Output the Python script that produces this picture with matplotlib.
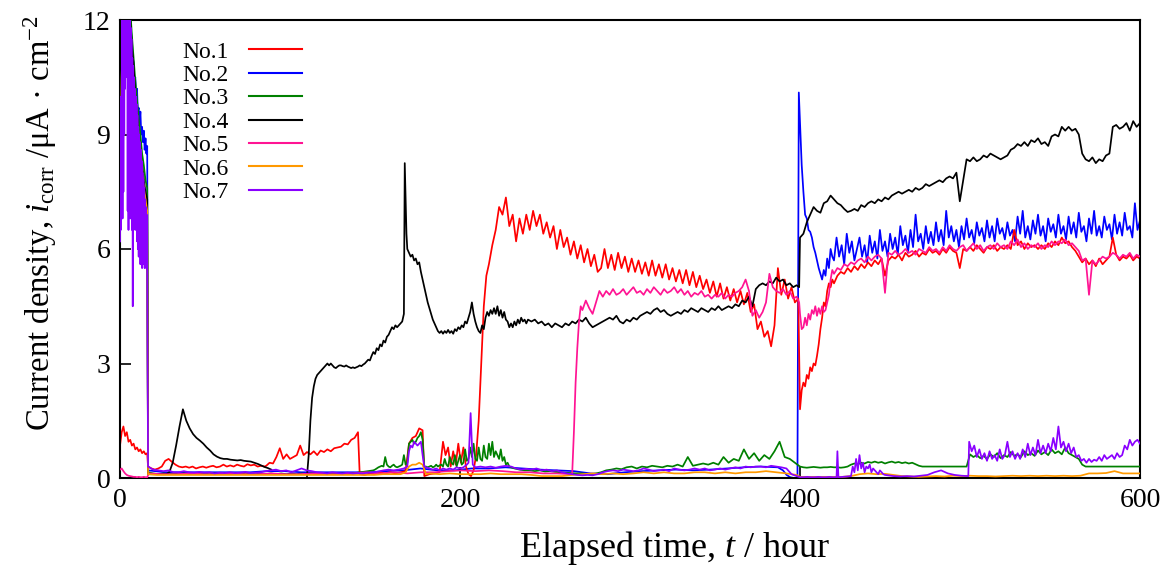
import numpy as np
import matplotlib
matplotlib.use("Agg")
import matplotlib.pyplot as plt
from matplotlib.lines import Line2D

plt.rcParams['font.family'] = ['Liberation Serif', 'DejaVu Serif']
plt.rcParams['mathtext.fontset'] = 'custom'
plt.rcParams['mathtext.rm'] = 'Liberation Serif'
plt.rcParams['mathtext.it'] = 'Liberation Serif:italic'

labels = ["No.1", "No.2", "No.3", "No.4", "No.5", "No.6", "No.7"]
colors = ["#ff0000", "#0000ff", "#008000", "#000000", "#ff1493", "#ff9900", "#8a00ff"]
x_ticks = [0, 200, 400, 600]
y_ticks = [0, 3, 6, 9, 12]

# Each series: list of (t_start, t_end, values) segments
no1_segments = [
    (0, 16, [0.85, 1.2, 1.35, 1.1, 1.2, 0.95, 1.0, 0.85, 0.9, 0.75, 0.8, 0.7, 0.75, 0.65, 0.7, 0.62, 0.65]),
    (16.5, 85, [0.3, 0.25, 0.22, 0.25, 0.3, 0.45, 0.5, 0.42, 0.35, 0.3, 0.28, 0.3, 0.27, 0.3, 0.25, 0.28, 0.3,
                0.27, 0.3, 0.32, 0.28, 0.3, 0.35, 0.3, 0.33, 0.3, 0.35, 0.32, 0.3, 0.36, 0.33, 0.35, 0.3, 0.32, 0.3]),
    (86, 140, [0.32, 0.4, 0.38, 0.55, 0.78, 0.5, 0.62, 0.5, 0.55, 0.6, 0.85, 0.6, 0.68, 0.62, 0.7, 0.6, 0.72, 0.68,
               0.75, 0.7, 0.78, 0.8, 0.82, 0.9, 0.88, 1.0, 1.05, 1.2]),
    (141, 168, [0.1, 0.08, 0.12, 0.1, 0.15, 0.12, 0.15, 0.12, 0.15, 0.18]),
    (170, 178, [0.9, 1.05, 1.1, 1.3, 1.25]),
    (179, 188, [0.05, 0.1, 0.12, 0.15]),
    (190, 217, [0.95, 0.6, 0.8, 0.3, 0.7, 0.35, 0.9, 0.4, 0.8, 0.3, 0.1, 0.05, 0.2, 0.6, 1.5, 3.0, 4.5, 5.3, 5.6]),
    (219, 399, [6.1, 6.5, 7.1, 6.9, 7.35, 6.6, 6.9, 6.2, 6.8,
                6.4, 6.9, 6.5, 7.0, 6.6, 6.9, 6.4, 6.7, 6.3, 6.6,
                6.0, 6.5, 6.05, 6.3, 5.85, 6.2, 5.75, 6.1, 5.65, 6.0,
                5.55, 5.85, 5.4, 5.5, 6.0, 5.5, 5.85, 5.45, 5.9, 5.5,
                5.8, 5.4, 5.75, 5.4, 5.7, 5.35, 5.65, 5.3, 5.7, 5.3,
                5.6, 5.25, 5.6, 5.2, 5.5, 5.15, 5.45, 5.1, 5.45, 5.05,
                5.4, 5.0, 5.3, 4.95, 5.2, 4.85, 5.15, 4.75, 5.1, 4.7,
                5.0, 4.65, 4.95, 4.6, 4.9, 4.55, 4.85, 4.35, 4.55, 3.9,
                4.1, 3.7, 3.85, 3.45, 4.0, 5.5, 4.8, 5.2, 4.7, 5.0,
                4.6, 4.7]),
    (400, 420, [1.8, 2.3, 2.5, 2.4, 2.7, 2.6, 2.9, 2.8, 3.0, 2.95, 3.2, 3.5, 3.9, 4.2, 4.6, 4.5, 4.9, 5.1, 5.0, 5.2, 5.1]),
    (422, 600, [5.3, 5.4, 5.35, 5.5, 5.4, 5.55, 5.45, 5.6, 5.5, 5.65,
                5.55, 5.7, 5.6, 5.75, 5.3, 5.7, 5.8, 5.75, 5.85, 5.7,
                5.9, 5.8, 5.85, 5.95, 5.8, 5.9, 5.85, 6.0, 5.9, 5.95,
                5.85, 6.0, 5.9, 6.05, 5.95, 5.9, 5.5, 6.0, 5.95, 6.05,
                5.95, 6.1, 6.0, 5.9, 6.05, 6.0, 6.1, 5.95, 6.05, 6.0,
                6.1, 6.0, 6.5, 6.1, 6.2, 6.0, 6.15, 6.05, 6.1, 6.0,
                6.1, 6.0, 6.15, 6.05, 6.2, 6.1, 6.3, 6.15, 6.2, 6.05,
                5.95, 5.8, 5.65, 5.75, 5.6, 5.7, 5.55, 5.75, 5.6, 5.7,
                5.8, 6.3, 5.85, 5.7, 5.8, 5.75, 5.85, 5.7, 5.8, 5.75]),
]

no2_segments = [
    (0, 16, [8.8, 10.0, 11.5, 12.5, 12.5, 12.5, 12.5, 12.5, 12.5, 12.5, 12.5, 12.5, 12.3, 11.7, 11.5, 11.0, 10.9,
             10.4, 10.5, 10.0, 10.2, 9.6, 9.7, 9.3, 9.6, 9.0, 9.2, 8.8, 9.1, 8.6, 8.9, 8.5, 8.7]),
    (16.5, 387, [0.2, 0.15, 0.15, 0.15, 0.15, 0.15, 0.15, 0.18, 0.18, 0.15, 0.15, 0.15, 0.15, 0.15, 0.18, 0.2,
                 0.25, 0.2, 0.2, 0.25, 0.25, 0.28, 0.25, 0.22, 0.2, 0.18, 0.12, 0.1, 0.15, 0.18, 0.2, 0.22, 0.2,
                 0.22, 0.25, 0.28, 0.3, 0.28]),
    (390, 398.5, [0.2, 0.08, 0.02, 0.0, 0.0]),
    (399.3, 399.3, [10.1]),
    (400, 419, [9.3, 8.2, 7.5, 6.9, 6.8, 6.5, 6.45, 6.3, 6.05, 5.9, 5.7, 5.5, 5.35, 5.2, 5.45, 5.3, 5.75, 5.5, 6.0, 5.8]),
    (420, 600, [5.7, 6.3, 5.8, 6.1, 5.6, 6.4, 5.9, 6.2, 5.7, 6.0,
                6.3, 5.8, 6.1, 5.65, 6.35, 5.9, 6.2, 5.75, 6.5, 5.95,
                6.2, 5.8, 6.4, 6.0, 6.3, 5.85, 6.6, 6.1, 6.35, 5.9,
                6.5, 6.05, 6.9, 6.2, 6.4, 6.0, 6.6, 6.15, 6.45, 6.1,
                6.7, 6.2, 6.5, 6.1, 7.0, 6.3, 6.6, 6.2, 6.5, 6.05,
                6.6, 6.25, 6.8, 6.3, 6.5, 6.15, 6.7, 6.35, 6.55, 6.2,
                6.75, 6.3, 6.6, 6.2, 6.8, 6.4, 6.55, 6.25, 6.7, 6.35,
                6.5, 6.2, 6.85, 6.4, 7.0, 6.3, 6.6, 6.25, 6.75, 6.4,
                6.9, 6.35, 6.6, 6.2, 6.8, 6.45, 6.65, 6.3, 6.9, 6.4,
                6.6, 6.25, 6.85, 6.4, 6.7, 6.3, 6.95, 6.45, 6.6, 6.2,
                6.8, 6.4, 7.0, 6.35, 6.6, 6.3, 6.85, 6.5, 6.65, 6.25,
                6.9, 6.4, 6.7, 6.35, 6.95, 6.5, 6.6, 6.3, 7.2, 6.5,
                6.75]),
]

no3_segments = [
    (0, 16, [7.5, 10.5, 12.5, 12.5, 12.5, 12.5, 12.3, 11.6, 11.0, 10.4, 9.9, 9.4, 9.0, 8.5, 8.2, 7.8, 7.6]),
    (16.5, 149, [0.15, 0.12, 0.1, 0.12, 0.1, 0.12, 0.1, 0.12, 0.1, 0.12, 0.1, 0.12, 0.1, 0.12, 0.1, 0.12, 0.1,
                 0.12, 0.13, 0.1, 0.12, 0.1, 0.12, 0.1, 0.12, 0.1, 0.12, 0.1, 0.12, 0.1, 0.12, 0.1, 0.12, 0.1,
                 0.12, 0.1, 0.12, 0.1, 0.12, 0.1, 0.12, 0.14, 0.16, 0.18, 0.2]),
    (150, 230, [0.22, 0.25, 0.28, 0.3, 0.32, 0.3, 0.55, 0.35, 0.3, 0.28,
                0.32, 0.35, 0.3, 0.28, 0.3, 0.32, 0.35, 0.6, 0.35, 0.4,
                0.9, 0.95, 1.0, 0.9, 0.95, 1.05, 1.1, 1.2, 1.0, 0.3,
                0.3, 0.28, 0.3, 0.32, 0.28, 0.3, 0.35, 0.3, 0.33, 0.35,
                0.3, 0.5, 0.35, 0.3, 0.55, 0.4, 0.35, 0.6, 0.3, 0.45,
                0.6, 0.35, 0.4, 0.75, 0.45, 0.5, 0.8, 0.55, 0.9, 0.5,
                0.45, 0.8, 0.5, 0.45, 0.85, 0.55, 0.5, 0.9, 0.6, 0.95,
                0.55, 0.7, 0.6, 0.5, 0.75, 0.45, 0.55, 0.35, 0.4, 0.3,
                0.28]),
    (232, 400, [0.25, 0.22, 0.2, 0.2, 0.18, 0.2, 0.17, 0.18, 0.16, 0.15, 0.14, 0.13, 0.12, 0.12, 0.11, 0.1, 0.12,
                0.15, 0.2, 0.22, 0.25, 0.23, 0.28, 0.3, 0.25, 0.3, 0.28, 0.32, 0.3, 0.28, 0.32, 0.3, 0.35, 0.3,
                0.55, 0.32, 0.35, 0.38, 0.35, 0.4, 0.35, 0.55, 0.4, 0.5, 0.45, 0.75, 0.5, 0.65, 0.45, 0.6, 0.5,
                0.7, 0.95, 0.55, 0.5, 0.4, 0.3]),
    (402, 600, [0.28, 0.27, 0.28, 0.29, 0.28, 0.27, 0.28, 0.28, 0.29, 0.28,
                0.28, 0.27, 0.28, 0.3, 0.35, 0.38, 0.36, 0.4, 0.38, 0.42,
                0.4, 0.43, 0.4, 0.42, 0.38, 0.41, 0.43, 0.4, 0.42, 0.39,
                0.41, 0.38, 0.4, 0.36, 0.32, 0.3, 0.3, 0.3, 0.3, 0.3,
                0.3, 0.3, 0.3, 0.3, 0.3, 0.3, 0.3, 0.3, 0.3, 0.62,
                0.55, 0.6, 0.52, 0.58, 0.5, 0.62, 0.55, 0.65, 0.52, 0.6,
                0.55, 0.68, 0.58, 0.62, 0.55, 0.7, 0.6, 0.65, 0.58, 0.72,
                0.62, 0.68, 0.6, 0.75, 0.65, 0.7, 0.62, 0.8, 0.65, 0.6,
                0.55, 0.5, 0.35, 0.3, 0.3, 0.3, 0.3, 0.3, 0.3, 0.3,
                0.3, 0.3, 0.3, 0.3, 0.3, 0.3, 0.3, 0.3, 0.3, 0.3]),
]

no4_segments = [
    (0, 16, [8.0, 11.0, 12.5, 12.5, 12.5, 12.5, 12.0, 11.3, 10.8, 10.0, 9.5, 9.0, 8.5, 8.2, 7.8, 7.5, 7.3]),
    (16.5, 27, [0.1, 0.1]),
    (29, 89, [0.15, 0.4, 0.85, 1.35, 1.8, 1.5, 1.3, 1.15, 1.05, 0.98, 0.9, 0.8, 0.72, 0.62, 0.56, 0.52, 0.5, 0.5,
              0.48, 0.47, 0.46, 0.47, 0.45, 0.44, 0.43, 0.4, 0.37, 0.33, 0.29, 0.26, 0.22]),
    (89.5, 89.5, [np.nan]),  # gap: no record between the two runs
    (110, 167, [0.05, 0.6, 1.5, 2.1, 2.4, 2.6, 2.7, 2.75, 2.8, 2.85,
                2.9, 2.95, 3.0, 2.95, 3.0, 2.95, 2.9, 2.88, 2.92, 2.95,
                2.95, 2.93, 2.92, 2.95, 2.92, 2.9, 2.88, 2.9, 2.88, 2.9,
                2.92, 2.95, 2.93, 2.97, 3.0, 3.05, 3.1, 3.08, 3.2, 3.3,
                3.25, 3.4, 3.35, 3.5, 3.45, 3.6, 3.55, 3.7, 3.75, 3.85,
                3.95, 3.9, 4.0, 3.95, 4.0, 4.05, 4.1, 4.3]),
    (167.5, 168.5, [8.25, 6.4]),
    (169, 240, [6.0, 5.9, 5.8, 5.85, 5.7, 5.75, 5.6, 5.65, 5.4, 5.2,
                5.0, 4.8, 4.6, 4.45, 4.3, 4.15, 4.05, 3.95, 3.85, 3.8,
                3.85, 3.78, 3.85, 3.8, 3.88, 3.8, 3.85, 3.78, 3.9, 3.85,
                3.95, 3.9, 4.0, 3.95, 4.1, 4.05, 4.2, 4.35, 4.6, 4.3,
                4.1, 3.95, 3.85, 3.8, 4.0, 3.9, 4.2, 4.35, 4.25, 4.4,
                4.3, 4.45, 4.3, 4.5, 4.25, 4.4, 4.2, 4.35, 4.15, 4.1,
                3.95, 4.05, 3.95, 4.1, 4.0, 4.15, 4.05, 4.2, 4.1, 4.15,
                4.05, 4.15]),
    (242, 398, [4.1, 4.15, 4.05, 4.1, 4.0, 4.05, 3.95, 4.05, 4.0, 3.95,
                4.05, 4.0, 4.1, 4.05, 4.15, 4.1, 4.2, 4.05, 3.95, 4.0,
                4.05, 4.1, 4.15, 4.2, 4.15, 4.25, 4.1, 4.05, 4.15, 4.1,
                4.2, 4.15, 4.25, 4.3, 4.35, 4.3, 4.4, 4.45, 4.35, 4.4,
                4.3, 4.25, 4.3, 4.35, 4.3, 4.4, 4.35, 4.45, 4.4, 4.35,
                4.45, 4.4, 4.35, 4.45, 4.4, 4.5, 4.4, 4.45, 4.5, 4.45,
                4.55, 4.5, 4.65, 4.6, 4.75, 4.5, 4.95, 5.05, 5.1, 5.05,
                5.15, 5.1, 5.25, 5.15, 5.2, 5.05, 5.1, 5.0, 5.05]),
    (399.5, 399.5, [5.0]),
    (400, 600, [6.3, 6.4, 6.7, 6.9, 7.1, 7.0, 6.95, 7.2, 7.25, 7.4,
                7.3, 7.2, 7.15, 7.05, 6.97, 7.0, 7.05, 7.0, 7.15, 7.1,
                7.2, 7.25, 7.2, 7.3, 7.25, 7.35, 7.3, 7.4, 7.45, 7.5,
                7.45, 7.5, 7.55, 7.5, 7.6, 7.55, 7.6, 7.7, 7.65, 7.7,
                7.75, 7.8, 7.75, 7.85, 7.9, 7.85, 8.0, 7.25, 7.8, 8.35,
                8.3, 8.4, 8.3, 8.35, 8.45, 8.4, 8.5, 8.45, 8.4, 8.35,
                8.4, 8.45, 8.6, 8.65, 8.75, 8.7, 8.8, 8.7, 8.85, 8.8,
                8.9, 8.75, 8.8, 8.7, 8.95, 9.0, 8.95, 9.2, 9.1, 9.2,
                9.1, 9.15, 9.0, 8.5, 8.35, 8.3, 8.4, 8.25, 8.35, 8.3,
                8.45, 8.5, 9.2, 9.25, 9.15, 9.2, 9.3, 9.1, 9.35, 9.2,
                9.3]),
]

no5_segments = [
    (0, 16, [0.22, 0.25, 0.18, 0.12, 0.08, 0.06, 0.05, 0.04, 0.03, 0.03, 0.02, 0.03, 0.02, 0.02, 0.03, 0.02, 0.02]),
    (17, 265, [0.12, 0.1, 0.1, 0.12, 0.1, 0.1, 0.12, 0.1, 0.1, 0.12, 0.1, 0.1, 0.12, 0.1, 0.1, 0.12, 0.15, 0.12,
               0.15, 0.12, 0.15, 0.15, 0.18, 0.2, 0.18, 0.2, 0.18, 0.15, 0.15, 0.12, 0.12, 0.1]),
    (266, 271, [0.12, 1.2, 2.5, 3.4, 4.1, 4.5]),
    (272, 398, [4.4, 4.65, 4.45, 4.3, 4.6, 4.9, 4.75, 4.9, 4.8, 4.95,
                4.8, 4.85, 4.95, 4.8, 4.9, 5.0, 4.85, 4.9, 4.8, 4.95,
                4.85, 5.0, 4.9, 4.8, 4.95, 4.85, 4.9, 5.0, 4.85, 4.95,
                4.8, 4.9, 4.75, 4.85, 4.8, 4.9, 4.75, 4.8, 4.7, 4.8,
                4.75, 4.85, 4.7, 4.8, 4.75, 4.85, 4.9, 5.0, 5.2, 4.9,
                4.25, 4.4, 4.2, 4.35, 4.6, 5.35, 5.0, 4.9, 4.85, 4.95,
                4.8, 4.9, 4.7, 4.75]),
    (399.5, 399.5, [4.6]),
    (400, 420, [4.3, 3.9, 3.95, 4.2, 4.0, 4.3, 4.15, 4.4, 4.3, 4.5, 4.25, 4.45, 4.3, 4.5, 4.35, 4.4, 4.6,
                4.8, 5.2, 5.45, 5.35]),
    (422, 600, [5.5, 5.45, 5.6, 5.55, 5.65, 5.6, 5.7, 5.75, 5.65, 5.8,
                5.7, 5.8, 5.85, 5.75, 4.85, 5.9, 5.85, 5.95, 5.85, 5.9,
                6.0, 5.9, 5.95, 5.85, 6.0, 5.95, 5.9, 6.05, 5.95, 6.0,
                5.9, 6.05, 5.95, 6.1, 6.0, 5.95, 6.05, 6.1, 5.95, 6.05,
                6.15, 6.0, 6.1, 5.95, 6.05, 6.1, 6.0, 6.15, 6.05, 6.1,
                6.0, 6.2, 6.1, 6.25, 6.05, 6.15, 6.0, 6.1, 6.05, 6.15,
                6.0, 6.1, 6.05, 6.2, 6.1, 6.2, 6.15, 6.25, 6.1, 6.15,
                6.05, 5.95, 5.7, 5.75, 4.8, 5.7, 5.6, 5.7, 5.8, 5.75,
                5.8, 5.9, 5.85, 5.75, 5.85, 5.8, 5.9, 5.75, 5.85, 5.8]),
]

no6_segments = [
    (0, 16, [7.0, 10.5, 12.5, 12.5, 12.5, 12.5, 11.0, 10.4, 10.0, 9.5, 9.0, 8.6, 8.3, 8.0, 7.6, 7.3, 7.0]),
    (16.5, 165, [0.1] + [0.08] * 26 + [0.1, 0.1, 0.1]),
    (168, 180, [0.15, 0.3, 0.35, 0.35, 0.4, 0.35, 0.1]),
    (182, 398, [0.12, 0.1, 0.12, 0.1, 0.1, 0.1, 0.12, 0.1, 0.1, 0.1, 0.08, 0.05, 0.05, 0.05, 0.08, 0.1, 0.12, 0.1,
                0.12, 0.1, 0.12, 0.15, 0.12, 0.15, 0.12, 0.12, 0.15, 0.15, 0.12, 0.15, 0.12, 0.15, 0.15, 0.18,
                0.15, 0.12, 0.08]),
    (400, 600, [0.03, 0.03, 0.03, 0.03, 0.03, 0.03, 0.05, 0.1, 0.12, 0.1, 0.11, 0.08, 0.05, 0.04, 0.03, 0.04,
                0.05, 0.04, 0.06, 0.05, 0.06, 0.05, 0.05, 0.04, 0.05, 0.06, 0.05, 0.06, 0.05, 0.06, 0.05, 0.06,
                0.05, 0.06, 0.12, 0.12, 0.13, 0.18, 0.12, 0.12, 0.12]),
]

no7_segments = [
    (0, 16, [6.2, 8.5, 6.5, 10.0, 7.0, 12.5, 6.8, 12.5, 7.5, 12.5, 9.0, 12.5, 10.2, 12.5, 10.5, 12.5, 11.0,
             12.5, 7.0, 12.5, 6.5, 12.5, 8.0, 12.2, 6.8, 11.8, 7.5, 11.5, 6.5, 11.0, 4.5, 10.8, 6.6, 10.5,
             6.8, 10.2, 6.5, 10.0, 7.0, 9.8, 6.2, 9.5, 6.0, 9.2, 5.8, 9.0, 6.3, 8.8, 5.6, 8.6, 5.9, 8.3, 5.5,
             8.0, 6.0, 7.8, 5.6, 7.6, 5.5, 7.3, 5.8, 7.1, 5.5, 6.9, 5.5]),
    (16.5, 167, [0.3, 0.22, 0.2, 0.18, 0.2, 0.15, 0.15, 0.18, 0.15, 0.14, 0.16, 0.14, 0.15, 0.12, 0.14, 0.13,
                 0.15, 0.13, 0.14, 0.16, 0.13, 0.14, 0.15, 0.18, 0.2, 0.22, 0.18, 0.2, 0.15, 0.2, 0.25, 0.2,
                 0.18, 0.15, 0.14, 0.12, 0.15, 0.13, 0.12, 0.14, 0.12, 0.13, 0.12, 0.14, 0.15, 0.17, 0.2, 0.22,
                 0.2, 0.22, 0.25]),
    (169, 179, [0.3, 0.7, 0.85, 0.8, 0.95, 0.9, 0.85, 0.9, 0.95, 0.6, 0.3]),
    (182, 204, [0.25, 0.22, 0.25, 0.2, 0.25, 0.22, 0.25, 0.22, 0.28, 0.25, 0.28, 0.35]),
    (205, 207.5, [0.4, 1.7, 0.35]),
    (209, 398, [0.28, 0.3, 0.28, 0.3, 0.27, 0.3, 0.32, 0.3, 0.25, 0.22, 0.24, 0.22, 0.25, 0.2, 0.22, 0.18, 0.2,
                0.15, 0.12, 0.1, 0.08, 0.07, 0.08, 0.07, 0.1, 0.15, 0.18, 0.2, 0.18, 0.22, 0.2, 0.18, 0.2, 0.25,
                0.22, 0.18, 0.2, 0.22, 0.18, 0.25, 0.22, 0.2, 0.22, 0.25, 0.22, 0.25, 0.2, 0.22, 0.25, 0.22,
                0.25, 0.28, 0.25, 0.3, 0.28, 0.3, 0.3, 0.28, 0.32, 0.3, 0.28, 0.25, 0.1, 0.05]),
    (400, 421.5, [0.02, 0.02, 0.03, 0.02, 0.02, 0.03, 0.02, 0.02, 0.03, 0.02, 0.02]),
    (422, 422.6, [0.7, 0.02]),
    (430, 450, [0.05, 0.3, 0.15, 0.5, 0.2, 0.6, 0.25, 0.4, 0.15, 0.3, 0.25, 0.35, 0.15, 0.25, 0.2, 0.15, 0.1,
                0.2, 0.15, 0.1, 0.08]),
    (455, 499, [0.05, 0.04, 0.05, 0.04, 0.06, 0.08, 0.15, 0.2, 0.12, 0.08, 0.06, 0.05]),
    (499.5, 600, [0.95, 0.7, 0.85, 0.55, 0.75, 0.5, 0.65, 0.45, 0.7, 0.5,
                  0.6, 0.45, 0.75, 0.5, 0.6, 0.95, 0.55, 0.7, 0.5, 0.65,
                  0.5, 0.75, 0.55, 0.9, 0.6, 0.8, 0.6, 1.0, 0.65, 0.85,
                  0.65, 0.9, 0.7, 1.05, 0.75, 1.35, 0.8, 0.95, 0.7, 0.9,
                  0.65, 0.8, 0.55, 0.6, 0.45, 0.5, 0.4, 0.5, 0.42, 0.48,
                  0.45, 0.55, 0.45, 0.6, 0.5, 0.55, 0.6, 0.5, 0.65, 0.55,
                  0.6, 0.85, 0.75, 1.0, 0.85, 0.95, 1.0, 0.9]),
]

all_segments = [no1_segments, no2_segments, no3_segments, no4_segments,
                no5_segments, no6_segments, no7_segments]
zorders = [2, 1, 3, 4, 5, 6, 7]


def build(segments):
    ts, vs = [], []
    for t0, t1, vals in segments:
        ts.append(np.linspace(t0, t1, len(vals)))
        vs.append(np.asarray(vals, dtype=float))
    return np.concatenate(ts), np.concatenate(vs)


fig = plt.figure(figsize=(11.66, 5.68), dpi=100)
ax = fig.add_axes([120 / 1166, 90 / 568, 1020 / 1166, 458 / 568])

for segs, lab, col, z in zip(all_segments, labels, colors, zorders):
    t, v = build(segs)
    ax.plot(t, v, color=col, lw=1.25, zorder=z, label=lab)

ax.set_xlim(0, 600)
ax.set_ylim(0, 12)
ax.set_xticks(x_ticks)
ax.set_yticks(y_ticks)
ax.tick_params(direction='in', length=8, width=1.2, labelsize=20, pad=7,
               top=False, right=False)
for s in ax.spines.values():
    s.set_linewidth(1.5)

ax.set_xlabel(r"Elapsed time, $t$ / hour", fontsize=26)
ax.xaxis.label.set_verticalalignment('center')
ax.xaxis.set_label_coords(0.544, -0.153)
ax.set_ylabel(r"Current density, $i$$_{\rm corr}$ /μA · cm$^{-2}$", fontsize=23.5)
ax.yaxis.set_label_coords(-0.06, 0.557)

leg_handles = [Line2D([], [], color=c, lw=1.5) for c in colors]
ax.legend(leg_handles, labels, loc='upper left', bbox_to_anchor=(0.045, 0.99),
          frameon=False, markerfirst=False, fontsize=17, handlelength=2.25,
          handletextpad=0.85, labelspacing=0.08, borderpad=0.2)

fig.savefig("out.png", dpi=100)
